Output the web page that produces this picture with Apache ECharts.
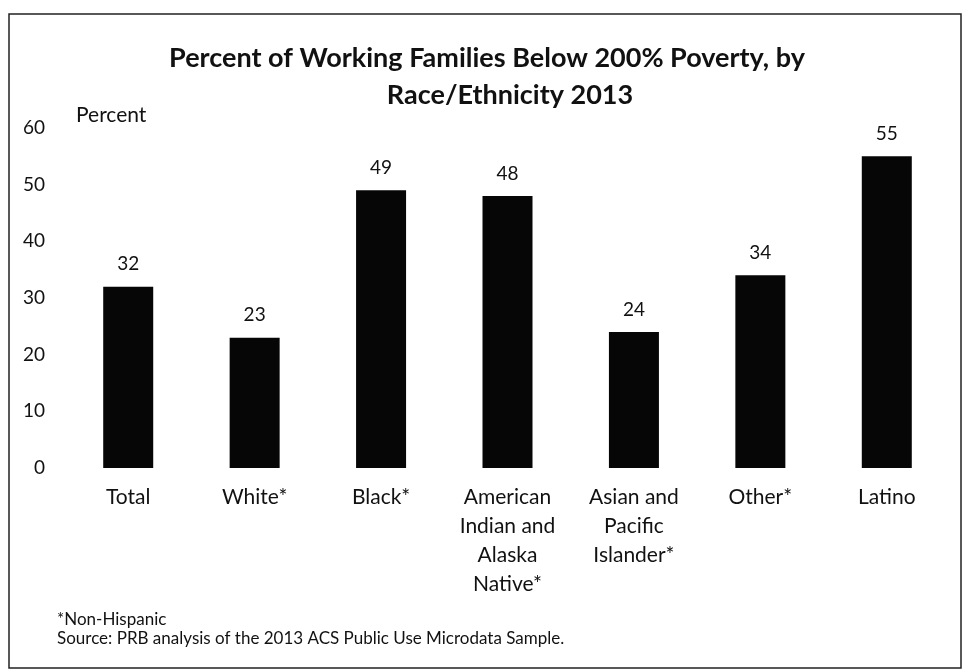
<!DOCTYPE html>
<html>
<head>
<meta charset="utf-8">
<script src="https://cdn.jsdelivr.net/npm/echarts@6/dist/echarts.min.js"></script>
<style>
  html, body { margin: 0; padding: 0; background: #fff; }
  #main { width: 963px; height: 670px; }
</style>
</head>
<body>
<div id="main"></div>
<script>
var categories = ['Total', 'White*', 'Black*', 'American\nIndian and\nAlaska\nNative*', 'Asian and\nPacific\nIslander*', 'Other*', 'Latino'];
var percentValues = [32, 23, 49, 48, 24, 34, 55];
var yTicks = { min: 0, max: 60, interval: 10 };
var titleLines = ['Percent of Working Families Below 200% Poverty, by', 'Race/Ethnicity 2013'];
var notes = ['*Non-Hispanic', 'Source: PRB analysis of the 2013 ACS Public Use Microdata Sample.'];

var fontName = 'Lato, "Open Sans", sans-serif';
var chart = echarts.init(document.getElementById('main'));

var option = {
    backgroundColor: '#fff',
    animation: false,
    textStyle: { fontFamily: fontName, color: '#111' },
    title: [
        {
            text: titleLines[0],
            left: 487, top: 43, padding: 0,
            textAlign: 'center',
            textStyle: { fontFamily: fontName, fontSize: 27, fontWeight: 'bold', color: '#111', lineHeight: 30 }
        },
        {
            text: titleLines[1],
            left: 510, top: 80, padding: 0,
            textAlign: 'center',
            textStyle: { fontFamily: fontName, fontSize: 27, fontWeight: 'bold', color: '#111', lineHeight: 30 }
        }
    ],
    grid: {
        left: 65,
        right: 13,
        top: 128,
        bottom: 202
    },
    xAxis: {
        type: 'category',
        data: categories,
        axisLine: { show: false },
        axisTick: { show: false },
        axisLabel: {
            interval: 0,
            margin: 15,
            fontSize: 21,
            lineHeight: 29,
            color: '#111',
            fontFamily: fontName
        }
    },
    yAxis: {
        type: 'value',
        min: yTicks.min,
        max: yTicks.max,
        interval: yTicks.interval,
        splitLine: { show: false },
        axisLine: { show: false },
        axisTick: { show: false },
        axisLabel: { margin: 20, fontSize: 19, color: '#111', fontFamily: fontName }
    },
    series: [
        {
            name: 'Percent',
            type: 'bar',
            data: percentValues,
            barWidth: 50,
            itemStyle: { color: '#060606' },
            label: {
                show: true,
                position: 'top',
                distance: 13,
                fontSize: 19,
                color: '#111',
                fontFamily: fontName
            }
        }
    ],
    graphic: [
        {
            type: 'rect',
            shape: { x: 9, y: 14, width: 952, height: 654 },
            style: { fill: 'none', stroke: '#222', lineWidth: 1.5 },
            silent: true
        },
        {
            type: 'text', left: 76, top: 105,
            style: { text: 'Percent', fontSize: 21, fill: '#111', fontFamily: fontName }
        },
        {
            type: 'text', left: 57, top: 611,
            style: { text: notes[0], fontSize: 17, fill: '#111', fontFamily: fontName }
        },
        {
            type: 'text', left: 57, top: 630,
            style: { text: notes[1], fontSize: 17, fill: '#111', fontFamily: fontName }
        }
    ]
};
chart.setOption(option);
</script>
</body>
</html>
